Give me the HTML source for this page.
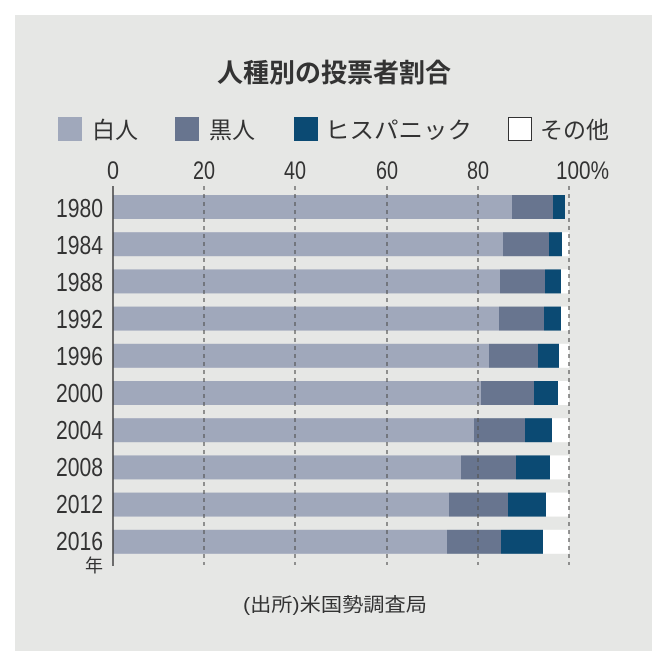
<!DOCTYPE html>
<html><head><meta charset="utf-8"><style>
html,body{margin:0;padding:0;background:#fff;}
svg{display:block;}
text{font-family:"Liberation Sans","Noto Sans CJK JP",sans-serif;fill:#333;}
.jp{font-family:"Liberation Sans","Noto Sans CJK JP",sans-serif;}
</style></head><body>
<svg width="667" height="665" viewBox="0 0 667 665" xmlns="http://www.w3.org/2000/svg">
<rect x="15" y="15" width="637" height="636" fill="#e6e7e5"/>
<text class="jp" x="334" y="82" font-size="26" font-weight="bold" text-anchor="middle" fill="#222">人種別の投票者割合</text>
<rect x="58" y="117" width="24" height="24" fill="#a0a8bb"/>
<text class="jp" x="92" y="138" font-size="23">白人</text>
<rect x="175" y="117" width="24" height="24" fill="#68758f"/>
<text class="jp" x="209" y="138" font-size="23">黒人</text>
<rect x="294" y="117" width="24" height="24" fill="#0b4a73"/>
<text class="jp" x="325" y="138" font-size="23" textLength="147" lengthAdjust="spacingAndGlyphs">ヒスパニック</text>
<rect x="508.5" y="117.5" width="23" height="23" fill="#fff" stroke="#333" stroke-width="1"/>
<text class="jp" x="540" y="138" font-size="23">その他</text>
<g font-size="25">
<text x="107" y="179" textLength="12" lengthAdjust="spacingAndGlyphs">0</text>
<text x="193" y="179" textLength="22" lengthAdjust="spacingAndGlyphs">20</text>
<text x="284" y="179" textLength="22" lengthAdjust="spacingAndGlyphs">40</text>
<text x="376" y="179" textLength="22" lengthAdjust="spacingAndGlyphs">60</text>
<text x="467" y="179" textLength="22" lengthAdjust="spacingAndGlyphs">80</text>
<text x="556" y="179" textLength="53" lengthAdjust="spacingAndGlyphs">100%</text>
</g>
<g>
<rect x="113" y="195" width="399" height="24" fill="#a0a8bb"/><rect x="512" y="195" width="41" height="24" fill="#68758f"/><rect x="553" y="195" width="12" height="24" fill="#0b4a73"/>
<rect x="113" y="232.2" width="390" height="24" fill="#a0a8bb"/><rect x="503" y="232.2" width="46" height="24" fill="#68758f"/><rect x="549" y="232.2" width="13" height="24" fill="#0b4a73"/><rect x="562" y="232.2" width="7" height="24" fill="#fff"/>
<rect x="113" y="269.4" width="387" height="24" fill="#a0a8bb"/><rect x="500" y="269.4" width="45" height="24" fill="#68758f"/><rect x="545" y="269.4" width="16" height="24" fill="#0b4a73"/><rect x="561" y="269.4" width="8" height="24" fill="#fff"/>
<rect x="113" y="306.6" width="386" height="24" fill="#a0a8bb"/><rect x="499" y="306.6" width="45" height="24" fill="#68758f"/><rect x="544" y="306.6" width="17" height="24" fill="#0b4a73"/><rect x="561" y="306.6" width="8" height="24" fill="#fff"/>
<rect x="113" y="343.8" width="376" height="24" fill="#a0a8bb"/><rect x="489" y="343.8" width="49" height="24" fill="#68758f"/><rect x="538" y="343.8" width="21" height="24" fill="#0b4a73"/><rect x="559" y="343.8" width="10" height="24" fill="#fff"/>
<rect x="113" y="381" width="368" height="24" fill="#a0a8bb"/><rect x="481" y="381" width="53" height="24" fill="#68758f"/><rect x="534" y="381" width="24" height="24" fill="#0b4a73"/><rect x="558" y="381" width="11" height="24" fill="#fff"/>
<rect x="113" y="418.2" width="361" height="24" fill="#a0a8bb"/><rect x="474" y="418.2" width="51" height="24" fill="#68758f"/><rect x="525" y="418.2" width="27" height="24" fill="#0b4a73"/><rect x="552" y="418.2" width="17" height="24" fill="#fff"/>
<rect x="113" y="455.4" width="348" height="24" fill="#a0a8bb"/><rect x="461" y="455.4" width="55" height="24" fill="#68758f"/><rect x="516" y="455.4" width="34" height="24" fill="#0b4a73"/><rect x="550" y="455.4" width="19" height="24" fill="#fff"/>
<rect x="113" y="492.6" width="336" height="24" fill="#a0a8bb"/><rect x="449" y="492.6" width="59" height="24" fill="#68758f"/><rect x="508" y="492.6" width="38" height="24" fill="#0b4a73"/><rect x="546" y="492.6" width="23" height="24" fill="#fff"/>
<rect x="113" y="529.8" width="334" height="24" fill="#a0a8bb"/><rect x="447" y="529.8" width="54" height="24" fill="#68758f"/><rect x="501" y="529.8" width="42" height="24" fill="#0b4a73"/><rect x="543" y="529.8" width="26" height="24" fill="#fff"/>
</g>
<g stroke="#555" stroke-width="1.2" stroke-dasharray="4,4">
<line x1="204" y1="186" x2="204" y2="565"/>
<line x1="295" y1="186" x2="295" y2="565"/>
<line x1="387" y1="186" x2="387" y2="565"/>
<line x1="478" y1="186" x2="478" y2="565"/>
<line x1="569" y1="186" x2="569" y2="565"/>
</g>
<line x1="113" y1="186" x2="113" y2="566" stroke="#444" stroke-width="1.5"/>
<g font-size="26">
<text x="56" y="217" textLength="47" lengthAdjust="spacingAndGlyphs">1980</text>
<text x="56" y="254" textLength="47" lengthAdjust="spacingAndGlyphs">1984</text>
<text x="56" y="291" textLength="47" lengthAdjust="spacingAndGlyphs">1988</text>
<text x="56" y="328" textLength="47" lengthAdjust="spacingAndGlyphs">1992</text>
<text x="56" y="365" textLength="47" lengthAdjust="spacingAndGlyphs">1996</text>
<text x="56" y="402" textLength="47" lengthAdjust="spacingAndGlyphs">2000</text>
<text x="56" y="439" textLength="47" lengthAdjust="spacingAndGlyphs">2004</text>
<text x="56" y="476" textLength="47" lengthAdjust="spacingAndGlyphs">2008</text>
<text x="56" y="513" textLength="47" lengthAdjust="spacingAndGlyphs">2012</text>
<text x="56" y="550" textLength="47" lengthAdjust="spacingAndGlyphs">2016</text>
</g>
<text class="jp" x="103" y="572" font-size="18" text-anchor="end">年</text>
<text class="jp" x="243" y="611" font-size="19" textLength="184" lengthAdjust="spacingAndGlyphs">(出所)米国勢調査局</text>
</svg>
</body></html>
